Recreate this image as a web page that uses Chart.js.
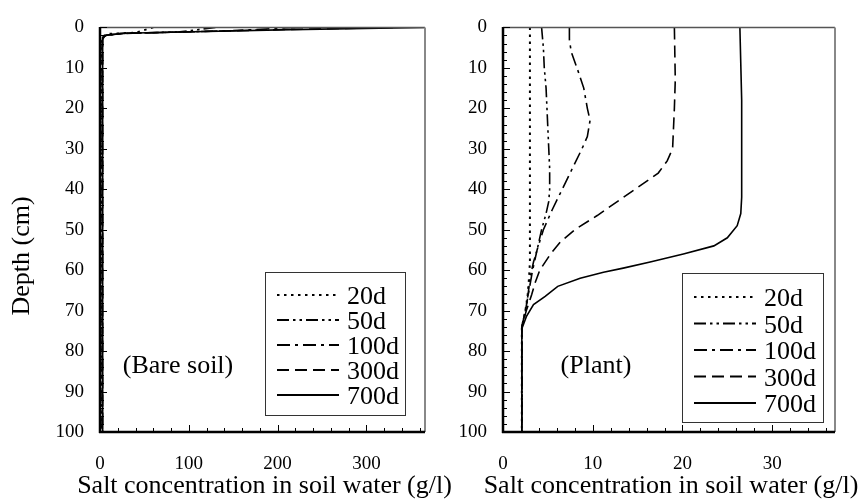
<!DOCTYPE html>
<html>
<head>
<meta charset="utf-8">
<script src="https://cdn.jsdelivr.net/npm/chart.js@4.4.1/dist/chart.umd.min.js"></script>
<style>
  html, body { margin: 0; padding: 0; background: #fff; }
  #wrap { position: relative; width: 866px; height: 501px; overflow: hidden; }
  canvas { position: absolute; top: 0; }
  #bare { left: 0; }
  #plant { left: 440px; }
</style>
</head>
<body>
<div id="wrap">
  <canvas id="bare" width="490" height="501"></canvas>
  <canvas id="plant" width="426" height="501"></canvas>
</div>
<script>
// series labels
const seriesNames = ['20d', '50d', '100d', '300d', '700d'];

// depth axis ticks (cm)
const depthTicks = [0, 10, 20, 30, 40, 50, 60, 70, 80, 90, 100];

// bare soil: salt concentration (g/l) against depth (cm)
const bare20Depth = [0, 1.3, 1.6, 2.2, 3, 100];
const bare20Conc  = [60, 40, 10, 3, 2.2, 2.2];
const bare50Depth = [0, 1.1, 1.5, 2.1, 3, 100];
const bare50Conc  = [130, 90, 22, 5, 2.4, 2.4];
const bare100Depth = [0, 0.8, 1.2, 1.5, 2.0, 3, 100];
const bare100Conc  = [220, 150, 80, 25, 6, 2.6, 2.6];
const bare300Depth = [0, 0.5, 1.2, 1.5, 2.0, 2.6, 100];
const bare300Conc  = [330, 215, 80, 26, 6, 3, 3];
const bare700Depth = [0, 0.55, 1.2, 1.45, 1.9, 2.4, 100];
const bare700Conc  = [365, 215, 80, 27, 7, 3, 3];

// plant: salt concentration (g/l) against depth (cm)
const plant20Depth = [0, 20, 40, 58, 62, 66, 70, 74, 100];
const plant20Conc  = [3.0, 3.0, 3.0, 3.0, 2.9, 2.75, 2.5, 2.1, 2.1];
const plant50Depth = [0, 5, 10, 15, 20, 25, 30, 35, 40, 43, 46, 50, 55, 58, 62, 66, 70, 74, 100];
const plant50Conc  = [4.3, 4.5, 4.6, 4.8, 4.9, 5.0, 5.1, 5.2, 5.2, 5.1, 4.8, 4.3, 3.8, 3.4, 3.0, 2.8, 2.5, 2.1, 2.1];
const plant100Depth = [0, 3, 6, 11, 15, 20, 23, 27, 30, 35, 40, 45, 50, 55, 60, 65, 70, 74, 100];
const plant100Conc  = [7.4, 7.4, 7.6, 8.4, 9.0, 9.4, 9.7, 9.4, 8.8, 7.7, 6.6, 5.5, 4.5, 3.8, 3.3, 2.9, 2.5, 2.1, 2.1];
const plant300Depth = [0, 13, 20, 30, 33, 36, 38.5, 42.5, 46.5, 50, 53, 56, 60, 63, 66, 70, 74, 100];
const plant300Conc  = [19.1, 19.2, 19.1, 18.9, 18.3, 17.3, 15.7, 13.1, 10.5, 8.0, 6.4, 5.3, 4.1, 3.6, 3.2, 2.6, 2.1, 2.1];
const plant700Depth = [0, 18, 42, 46, 49, 52, 54, 56, 58, 59.5, 60.5, 62, 64, 66.5, 68.5, 71.5, 74.5, 100];
const plant700Conc  = [26.4, 26.6, 26.6, 26.5, 26.1, 25.0, 23.5, 20.1, 16.4, 13.4, 11.2, 8.6, 6.1, 4.7, 3.4, 2.6, 2.1, 2.1];

// line styles per series
const dashes = [[2.5, 4.5], [12, 4, 2.5, 4, 2.5, 4], [13, 5, 3, 5], [12, 6], []];
const widths = [2, 1.6, 1.6, 1.6, 1.6];

const SERIF = '"Liberation Serif", "Times New Roman", serif';

function toPoints(depth, conc) {
  return depth.map((d, i) => ({ x: conc[i], y: d }));
}

function makeSets(pairs) {
  return pairs.map(([depth, conc], i) => ({
    label: seriesNames[i],
    data: toPoints(depth, conc),
    showLine: true,
    borderColor: '#000',
    backgroundColor: '#000',
    borderWidth: widths[i],
    borderDash: dashes[i],
    pointRadius: 0,
    tension: 0,
  }));
}

function line(ctx, x1, y1, x2, y2) {
  ctx.beginPath();
  ctx.moveTo(x1, y1);
  ctx.lineTo(x2, y2);
  ctx.stroke();
}

const decor = {
  id: 'decor',
  afterDraw(chart, args, opts) {
    const { ctx, chartArea: a, scales: { x, y } } = chart;
    ctx.save();

    // frame
    ctx.strokeStyle = '#555';
    ctx.lineWidth = 1.5;
    line(ctx, a.left, a.top, a.right, a.top);
    ctx.strokeStyle = '#888';
    ctx.lineWidth = 2;
    line(ctx, a.right, a.top, a.right, a.bottom);
    ctx.strokeStyle = '#000';
    ctx.lineWidth = 2.5;
    line(ctx, a.left, a.top - 0.5, a.left, a.bottom + 1);
    line(ctx, a.left - 1, a.bottom, a.right, a.bottom);

    // inward ticks
    ctx.lineWidth = 1;
    for (let v = 0; v <= 100; v += 2) {
      const py = Math.round(y.getPixelForValue(v)) + 0.5;
      line(ctx, a.left, py, a.left + (v % 10 === 0 ? 7 : 4), py);
    }
    for (let v = 0; v <= x.max; v += opts.xMinor) {
      const px = Math.round(x.getPixelForValue(v)) + 0.5;
      line(ctx, px, a.bottom, px, a.bottom - (v % opts.xMajor === 0 ? 7 : 4));
    }

    // legend box
    const L = opts.legend;
    ctx.fillStyle = '#fff';
    ctx.fillRect(L.left, L.top, L.width, L.height);
    ctx.strokeStyle = '#333';
    ctx.lineWidth = 1;
    ctx.strokeRect(L.left + 0.5, L.top + 0.5, L.width, L.height);
    ctx.font = '26px ' + SERIF;
    ctx.fillStyle = '#000';
    ctx.textAlign = 'left';
    ctx.textBaseline = 'alphabetic';
    chart.data.datasets.forEach((ds, i) => {
      const ry = L.row0 + L.gap * i;
      ctx.strokeStyle = '#000';
      ctx.lineWidth = 2;
      ctx.setLineDash(ds.borderDash);
      line(ctx, L.left + 12, ry, L.left + 74, ry);
      ctx.setLineDash([]);
      ctx.fillText(ds.label, L.left + 82, ry + 9);
    });

    // panel label
    ctx.textAlign = 'center';
    ctx.fillText(opts.panel.text, opts.panel.x, opts.panel.y);

    // x title
    ctx.fillText('Salt concentration in soil water (g/l)', (a.left + a.right) / 2 + 2, 493);

    // y title
    if (opts.yTitle) {
      ctx.translate(29, 256);
      ctx.rotate(-Math.PI / 2);
      ctx.fillText(opts.yTitle, 0, 0);
    }
    ctx.restore();
  }
};

function panel(canvasId, datasets, xMax, xStep, xMinor, yWidth, padRight, extra) {
  const canvas = document.getElementById(canvasId);
  return new Chart(canvas, {
    type: 'scatter',
    data: { datasets },
    options: {
      responsive: false,
      devicePixelRatio: 1,
      animation: false,
      layout: { padding: { top: 17, right: padRight, bottom: 0, left: 0 } },
      plugins: {
        legend: { display: false },
        tooltip: { enabled: false },
        decor: Object.assign({ xMinor, xMajor: xStep }, extra),
      },
      scales: {
        x: {
          type: 'linear',
          min: 0,
          max: xMax,
          grid: { display: false, drawTicks: false },
          border: { display: false },
          ticks: {
            stepSize: xStep,
            includeBounds: false,
            autoSkip: false,
            maxRotation: 0,
            padding: 21,
            color: '#000',
            font: { family: SERIF, size: 19 },
          },
          afterFit(scale) { scale.height = 69; },
        },
        y: {
          type: 'linear',
          reverse: true,
          min: 0,
          max: 100,
          afterBuildTicks(scale) { scale.ticks = depthTicks.map(v => ({ value: v })); },
          grid: { display: false, drawTicks: false },
          border: { display: false },
          ticks: {
            autoSkip: false,
            padding: 16,
            color: '#000',
            font: { family: SERIF, size: 19 },
          },
          afterFit(scale) { scale.width = yWidth; },
        },
      },
    },
    plugins: [decor],
  });
}

panel('bare', makeSets([
  [bare20Depth, bare20Conc],
  [bare50Depth, bare50Conc],
  [bare100Depth, bare100Conc],
  [bare300Depth, bare300Conc],
  [bare700Depth, bare700Conc],
]), 366, 100, 20, 100, 65, {
  legend: { left: 265, top: 272, width: 140, height: 143, row0: 295, gap: 25 },
  panel: { text: '(Bare soil)', x: 178, y: 373 },
  yTitle: 'Depth (cm)',
});

panel('plant', makeSets([
  [plant20Depth, plant20Conc],
  [plant50Depth, plant50Conc],
  [plant100Depth, plant100Conc],
  [plant300Depth, plant300Conc],
  [plant700Depth, plant700Conc],
]), 37, 10, 2, 63, 31, {
  legend: { left: 242, top: 273, width: 141, height: 149, row0: 297, gap: 26.5 },
  panel: { text: '(Plant)', x: 156, y: 373 },
});
</script>
</body>
</html>
